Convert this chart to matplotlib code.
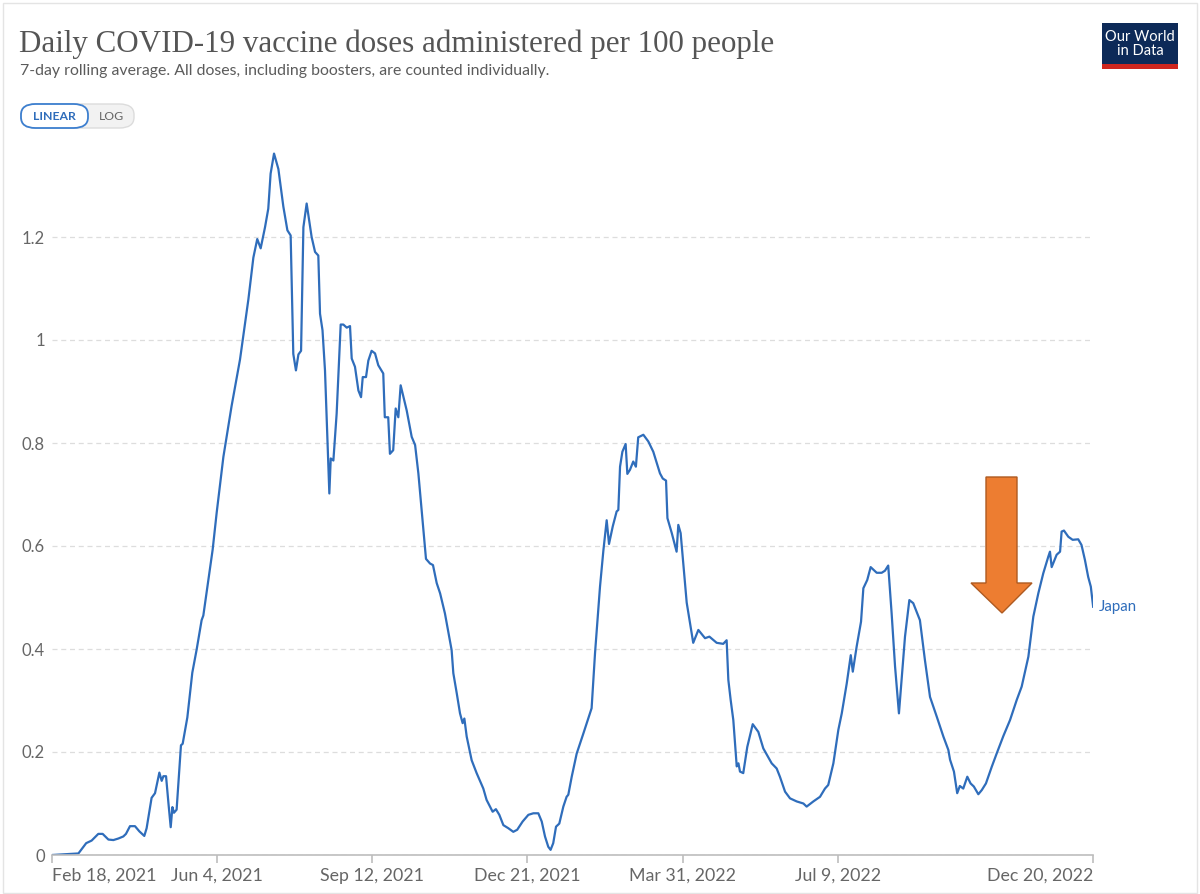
import matplotlib
matplotlib.use("Agg")
import matplotlib.pyplot as plt
from matplotlib.patches import Polygon, FancyBboxPatch, Rectangle
import pandas as pd
import numpy as np

# ---------------- data ----------------
start_date = "2021-02-18"
days = [0, 17, 22, 25.5, 29.8, 32.6, 36.3, 39.5, 42.7, 45.9, 47.6, 50.2, 53.4, 56.2, 59.4, 60.9,
        64.1, 66.3, 67.8, 69.1, 70.6, 71.7, 73.4, 74.9, 76.4, 77.5, 78.5, 80.2, 83, 84.1, 85.6, 87.1,
        90.3, 93.1, 96.3, 97.4, 101.7, 103.4, 106, 110.3, 115.6, 121, 126.4, 129.6, 132.1, 134.3,
        137.1, 139.2, 140.7, 142.9, 145.7, 148.9, 151.5, 153.6, 155.3, 157, 158.6, 160.3, 161.8,
        163.9, 167.1, 169.3, 171.4, 172.5, 174.1, 175.7, 178.5, 179.4, 181.1, 183.2, 185.8, 187.5,
        189.7, 191.8, 192.9, 195, 197.2, 198.9, 200, 202.1, 203.6, 205.7, 207.9, 210, 213.2, 214.2,
        216.4, 217.5, 219.6, 221.2, 222.9, 224.4, 228.3, 231.5, 233.7, 235.8, 240.7, 243.3, 245.2,
        247.6, 249.8, 252.9, 257.2, 258.3, 260.5, 262.6, 264.3, 265.4, 266.9, 270.1, 273.3, 277.6,
        279.7, 283.6, 285.7, 287.9, 290.5, 293.7, 296.9, 299.4, 302.9, 306.6, 309.8, 313, 315.2,
        317.3, 319.4, 320.9, 322.6, 324.4, 326.5, 329.1, 331.2, 332.3, 334.5, 337.7, 342, 347.3,
        349.5, 352.7, 354.9, 357, 358.5, 360.9, 363.4, 364.5, 365.6, 367.1, 369.2, 370.3, 372,
        374.1, 375.8, 377.3, 380.6, 383.8, 387, 391.3, 393.1, 395.2, 396.1, 398.9, 402, 403.1,
        404.6, 408.5, 412.7, 416, 420.3, 423.1, 427.8, 432, 434.2, 435.3, 436.8, 438.5, 440.7,
        441.8, 442.8, 444.9, 447.5, 451, 454.6, 457.8, 463.2, 466.4, 468.5, 471.8, 475, 479.3,
        483.6, 485.7, 490, 494.3, 497.5, 499.6, 502.9, 506.1, 508.3, 511.5, 514.1, 515.4, 517.9,
        520.7, 522.2, 524.7, 526.9, 530.8, 534, 536.1, 538.2, 540.4, 542.6, 545.1, 546.8, 549,
        551.8, 554.3, 558.6, 561.8, 565.1, 569.4, 573.7, 576.9, 578, 580.5, 582.6, 584.3, 586.5,
        589.1, 591.2, 593.3, 596.2, 598.4, 601.1, 604.8, 608, 612.3, 616.6, 620.9, 624.1, 628.4,
        631.6, 634.8, 638, 641.2, 642.3, 643.4, 646.6, 648.8, 649.8, 651.3, 654.1, 656.9, 660.5,
        662.6, 664.8, 666.9, 668.6, 670.1]
doses = [0, 0.003, 0.023, 0.028, 0.041, 0.041, 0.030, 0.029, 0.032, 0.036, 0.041, 0.056, 0.056,
         0.046, 0.037, 0.052, 0.111, 0.12, 0.142, 0.16, 0.144, 0.153, 0.153, 0.102, 0.054, 0.093,
         0.082, 0.088, 0.213, 0.216, 0.241, 0.267, 0.354, 0.399, 0.456, 0.465, 0.557, 0.593,
         0.665, 0.773, 0.872, 0.962, 1.079, 1.16, 1.196, 1.178, 1.219, 1.255, 1.323, 1.362, 1.332,
         1.259, 1.213, 1.203, 0.973, 0.941, 0.972, 0.979, 1.219, 1.265, 1.2, 1.171, 1.164, 1.051,
         1.019, 0.941, 0.702, 0.77, 0.766, 0.857, 1.03, 1.03, 1.024, 1.027, 0.964, 0.948, 0.902,
         0.889, 0.928, 0.928, 0.96, 0.979, 0.974, 0.951, 0.935, 0.85, 0.85, 0.779, 0.786, 0.867,
         0.85, 0.912, 0.863, 0.812, 0.796, 0.741, 0.575, 0.566, 0.563, 0.528, 0.508, 0.469,
         0.398, 0.353, 0.314, 0.275, 0.256, 0.265, 0.23, 0.184, 0.159, 0.129, 0.107, 0.084, 0.089,
         0.078, 0.058, 0.052, 0.045, 0.049, 0.065, 0.078, 0.081, 0.081, 0.065, 0.036, 0.016,
         0.010, 0.023, 0.055, 0.061, 0.094, 0.113, 0.117, 0.152, 0.197, 0.236, 0.285, 0.392,
         0.521, 0.592, 0.65, 0.604, 0.638, 0.667, 0.67, 0.754, 0.783, 0.798, 0.74, 0.748, 0.764,
         0.754, 0.811, 0.816, 0.803, 0.783, 0.741, 0.731, 0.727, 0.654, 0.625, 0.589, 0.641,
         0.625, 0.49, 0.412, 0.437, 0.421, 0.424, 0.412, 0.41, 0.417, 0.34, 0.301, 0.262, 0.172,
         0.178, 0.162, 0.159, 0.21, 0.254, 0.239, 0.207, 0.178, 0.168, 0.152, 0.123, 0.11, 0.104,
         0.1, 0.094, 0.104, 0.113, 0.129, 0.136, 0.178, 0.243, 0.275, 0.333, 0.388, 0.356, 0.405,
         0.453, 0.518, 0.534, 0.559, 0.548, 0.548, 0.552, 0.562, 0.469, 0.366, 0.275, 0.34,
         0.424, 0.495, 0.489, 0.456, 0.379, 0.307, 0.269, 0.23, 0.204, 0.185, 0.162, 0.12, 0.134,
         0.129, 0.152, 0.139, 0.133, 0.118, 0.126, 0.139, 0.171, 0.197, 0.231, 0.262, 0.301,
         0.327, 0.385, 0.463, 0.508, 0.547, 0.579, 0.589, 0.559, 0.583, 0.589, 0.628, 0.63,
         0.618, 0.612, 0.613, 0.602, 0.573, 0.54, 0.521, 0.482]
series_name = "Japan"
y_ticks = [0, 0.2, 0.4, 0.6, 0.8, 1.0, 1.2]
y_tick_labels = ["0", "0.2", "0.4", "0.6", "0.8", "1", "1.2"]
x_tick_dates = ["2021-02-18", "2021-06-04", "2021-09-12", "2021-12-21", "2022-03-31",
                "2022-07-09", "2022-12-20"]
x_tick_labels = ["Feb 18, 2021", "Jun 4, 2021", "Sep 12, 2021", "Dec 21, 2021", "Mar 31, 2022",
                 "Jul 9, 2022", "Dec 20, 2022"]
title = "Daily COVID-19 vaccine doses administered per 100 people"
subtitle = "7-day rolling average. All doses, including boosters, are counted individually."

# ---------------- figure ----------------
W, H = 1200, 894
fig = plt.figure(figsize=(W / 100, H / 100), dpi=100)
fig.patch.set_facecolor("white")

def fx(px):
    return px / W

def fy(py):
    return 1 - py / H

# faint outer frame
fig.add_artist(Rectangle((fx(3), fy(893)), fx(1194), 890 / H, transform=fig.transFigure,
                         fill=False, edgecolor="#e4e4e4", linewidth=1.0))

ax_left, ax_right, ax_bottom = 52, 1093, 855
ymax = 1.38
ax_top = ax_bottom - ymax * 515
ax = fig.add_axes([fx(ax_left), fy(ax_bottom), fx(ax_right - ax_left), (ax_bottom - ax_top) / H])

dates = pd.Timestamp(start_date) + pd.to_timedelta(np.array(days), unit="D")
line_color = "#2f6dbb"
ax.plot(dates, doses, color=line_color, linewidth=1.6, solid_joinstyle="round")

x_ticks = pd.to_datetime(x_tick_dates)
ax.set_xlim(x_ticks[0], x_ticks[-1])
ax.set_ylim(0, ymax)

for s in ["top", "right", "left"]:
    ax.spines[s].set_visible(False)
ax.spines["bottom"].set_color("#bdbdbd")
ax.spines["bottom"].set_linewidth(1.2)

ax.set_yticks(y_ticks)
ax.set_yticklabels(y_tick_labels)
ax.yaxis.grid(True, color="#dddddd", linestyle=(0, (4, 3)), linewidth=0.9)
ax.tick_params(axis="y", length=0, labelsize=12, labelcolor="#666666", pad=5)
for lbl in ax.get_yticklabels():
    lbl.set_fontfamily("Lato")

ax.set_xticks(x_ticks)
ax.set_xticklabels(x_tick_labels)
ax.tick_params(axis="x", length=6, width=1.2, color="#bdbdbd", labelsize=12.8,
               labelcolor="#666666", pad=3)
xl = ax.get_xticklabels()
for i, lbl in enumerate(xl):
    lbl.set_fontfamily("Lato")
    if i == 0:
        lbl.set_horizontalalignment("left")
    elif i == len(xl) - 1:
        lbl.set_horizontalalignment("right")

# series label
ax.annotate(series_name, xy=(dates[-1], doses[-1]), xytext=(4, 0), textcoords="offset points",
            color=line_color, fontsize=10.8, fontfamily="Lato", va="center", ha="left",
            annotation_clip=False)

# title & subtitle
fig.text(fx(19), fy(52), title, fontsize=22.3, fontfamily="Liberation Serif", color="#555555",
         va="baseline", ha="left")
fig.text(fx(20), fy(75), subtitle, fontsize=11.4, fontfamily="Lato", color="#5b5b5b",
         va="baseline", ha="left")

# LINEAR / LOG toggle
fig.add_artist(FancyBboxPatch((fx(21), fy(128)), fx(113), 24 / H,
                              boxstyle="round,pad=0,rounding_size=0.012",
                              transform=fig.transFigure, facecolor="#f2f2f2",
                              edgecolor="#dcdcdc", linewidth=1.0))
fig.add_artist(FancyBboxPatch((fx(21), fy(128)), fx(67), 24 / H,
                              boxstyle="round,pad=0,rounding_size=0.012",
                              transform=fig.transFigure, facecolor="white",
                              edgecolor="#3d7fcf", linewidth=1.3))
fig.text(fx(54), fy(116), "LINEAR", fontsize=8.8, fontfamily="Lato", color="#2f6dbb",
         ha="center", va="center", fontweight="bold")
fig.text(fx(111), fy(116), "LOG", fontsize=8.8, fontfamily="Lato", color="#666666",
         ha="center", va="center")

# OWID logo
fig.add_artist(Rectangle((fx(1102), fy(69)), fx(76), 46 / H, transform=fig.transFigure,
                         facecolor="#0d2a58", edgecolor="none"))
fig.add_artist(Rectangle((fx(1102), fy(69)), fx(76), 5 / H, transform=fig.transFigure,
                         facecolor="#ce261e", edgecolor="none"))
fig.text(fx(1140), fy(44), "Our World\nin Data", fontsize=10.5, fontfamily="Lato",
         color="white", ha="center", va="center", linespacing=1.0)

# orange arrow annotation
arrow_px = [(986, 477), (1017, 477), (1017, 583), (1032, 583), (1002, 613), (971, 583), (986, 583)]
fig.add_artist(Polygon([(fx(x), fy(y)) for x, y in arrow_px], closed=True,
                       transform=fig.transFigure, facecolor="#ed7d31", edgecolor="#ae5a21",
                       linewidth=1.0))

fig.savefig("out.png", dpi=100)
